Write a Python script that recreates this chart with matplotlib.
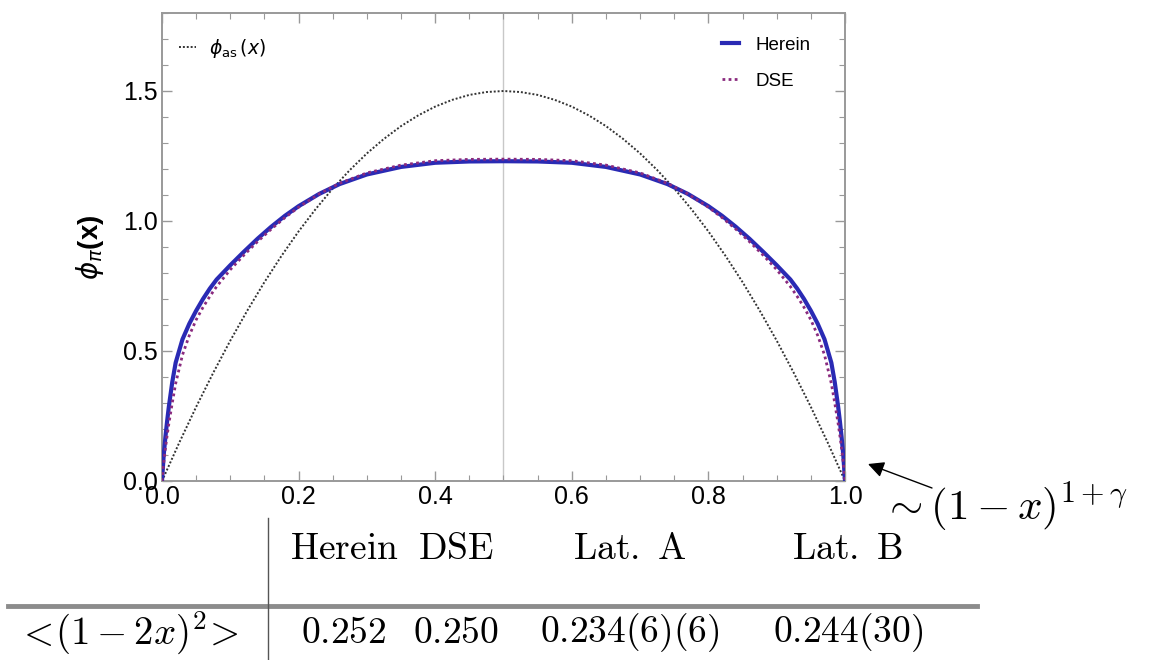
import matplotlib
matplotlib.use("Agg")
import matplotlib.pyplot as plt
from matplotlib.lines import Line2D
from matplotlib.font_manager import FontProperties
from matplotlib.ticker import MultipleLocator

plt.rcParams["font.family"] = ["Liberation Sans", "DejaVu Sans"]
plt.rcParams["mathtext.fontset"] = "cm"

# --- data ---
x_as = [0.0, 0.025, 0.05, 0.075, 0.10, 0.125, 0.15, 0.175, 0.20, 0.225, 0.25,
        0.275, 0.30, 0.325, 0.35, 0.375, 0.40, 0.425, 0.45, 0.475, 0.50,
        0.525, 0.55, 0.575, 0.60, 0.625, 0.65, 0.675, 0.70, 0.725, 0.75,
        0.775, 0.80, 0.825, 0.85, 0.875, 0.90, 0.925, 0.95, 0.975, 1.0]
phi_as = [0.0, 0.146, 0.285, 0.416, 0.54, 0.656, 0.765, 0.866, 0.96, 1.046, 1.125,
          1.196, 1.26, 1.316, 1.365, 1.406, 1.44, 1.466, 1.485, 1.496, 1.5,
          1.496, 1.485, 1.466, 1.44, 1.406, 1.365, 1.316, 1.26, 1.196, 1.125,
          1.046, 0.96, 0.866, 0.765, 0.656, 0.54, 0.416, 0.285, 0.146, 0.0]

x_pts = [0.0, 0.0025, 0.005, 0.0075, 0.01, 0.015, 0.02, 0.03, 0.04, 0.05, 0.06, 0.07,
         0.08, 0.10, 0.12, 0.14, 0.16, 0.18, 0.20, 0.23, 0.26, 0.30, 0.35, 0.40, 0.45,
         0.50,
         0.55, 0.60, 0.65, 0.70, 0.74, 0.77, 0.80, 0.82, 0.84, 0.86, 0.88, 0.90, 0.92,
         0.93, 0.94, 0.95, 0.96, 0.97, 0.98, 0.985, 0.99, 0.9925, 0.995, 0.9975, 1.0]
phi_herein = [0.0, 0.10, 0.17, 0.23, 0.285, 0.38, 0.455, 0.545, 0.605, 0.655, 0.70, 0.74,
              0.775, 0.83, 0.882, 0.932, 0.978, 1.020, 1.057, 1.104, 1.142, 1.179, 1.208,
              1.224, 1.229,
              1.23,
              1.229, 1.224, 1.208, 1.179, 1.142, 1.104, 1.057, 1.020, 0.978, 0.932, 0.882,
              0.83, 0.775, 0.74, 0.70, 0.655, 0.605, 0.545, 0.455, 0.38, 0.285, 0.23, 0.17,
              0.10, 0.0]
phi_dse = [0.0, 0.07, 0.125, 0.175, 0.22, 0.30, 0.375, 0.485, 0.56, 0.62, 0.668, 0.71,
           0.748, 0.813, 0.869, 0.921, 0.969, 1.013, 1.053, 1.104, 1.145, 1.185, 1.215,
           1.232, 1.237,
           1.238,
           1.237, 1.232, 1.215, 1.185, 1.145, 1.104, 1.053, 1.013, 0.969, 0.921, 0.869,
           0.813, 0.748, 0.71, 0.668, 0.62, 0.56, 0.485, 0.375, 0.30, 0.22, 0.175, 0.125,
           0.07, 0.0]

table_cols = ["Herein", "DSE", "Lat. A", "Lat. B"]
table_vals = ["0.252", "0.250", "0.234(6)(6)", "0.244(30)"]
table_row = r"$<\!(1-2x)^2\!>$"

W, H = 1172, 660

def fx(px):
    return px / W

def fy(py):
    return 1 - py / H

fig = plt.figure(figsize=(11.72, 6.60), dpi=100)
ax = fig.add_axes([fx(162), fy(481), fx(845) - fx(162), fy(13) - fy(481)])

# --- curves ---
ax.axvline(0.5, color="#c8c8c8", lw=1.0, zorder=1)
l_as, = ax.plot(x_as, phi_as, color="#333333", ls=(0, (1, 1)), lw=1.4, zorder=2)
l_her, = ax.plot(x_pts, phi_herein, color="#2a2ab4", lw=3.0, zorder=3)
l_dse, = ax.plot(x_pts, phi_dse, color="#8a2a7e", ls=(0, (1, 1.2)), lw=2.0, zorder=4)

ax.set_xlim(0, 1)
ax.set_ylim(0, 1.8)
ax.xaxis.set_major_locator(MultipleLocator(0.2))
ax.xaxis.set_minor_locator(MultipleLocator(0.05))
ax.yaxis.set_major_locator(MultipleLocator(0.5))
ax.yaxis.set_minor_locator(MultipleLocator(0.1))
ax.tick_params(which="both", direction="in", top=True, right=True, color="#999999")
ax.tick_params(which="major", length=7, width=1.0, labelsize=18, pad=3)
ax.tick_params(which="minor", length=4, width=0.8)
for s in ax.spines.values():
    s.set_color("#999999")
    s.set_linewidth(1.4)

ax.set_ylabel(r"$\phi_\pi$(x)", fontsize=20, fontweight="bold", labelpad=12,
              math_fontfamily="dejavusans")

leg_font = FontProperties(family=["Liberation Sans", "DejaVu Sans"], size=13.5,
                          math_fontfamily="dejavusans")
leg1 = ax.legend([l_as], [r"$\phi_{\rm as}\,(x)$"], loc="upper left", frameon=False,
                 prop=leg_font, handlelength=0.9, handletextpad=0.7,
                 bbox_to_anchor=(0.0, 0.985))
ax.add_artist(leg1)
ax.legend([l_her, l_dse], ["Herein", "DSE"], loc="upper right", frameon=False,
          prop=leg_font, handlelength=0.9, handletextpad=0.9, labelspacing=1.0,
          bbox_to_anchor=(0.975, 0.985))

# --- annotation ---
fig.add_artist(plt.Annotation("", xy=(fx(868), fy(464)), xytext=(fx(932), fy(488)),
                              xycoords="figure fraction", textcoords="figure fraction",
                              arrowprops=dict(arrowstyle="-|>", color="black", lw=1.0,
                                              mutation_scale=24, shrinkA=0, shrinkB=0)))
fig.text(fx(882), fy(507), r"$\sim(1-x)^{1+\gamma}$", fontsize=31, ha="left", va="center")

# --- table below ---
col_x = [344, 456, 630, 848]
for cx, name, val in zip(col_x, table_cols, table_vals):
    fig.text(fx(cx), fy(549), r"$\mathrm{" + name.replace(" ", r"\ ") + "}$",
             fontsize=27, ha="center", va="center")
    fig.text(fx(cx), fy(633), r"$\mathrm{" + val + "}$", fontsize=27, ha="center", va="center")
fig.text(fx(128), fy(633), table_row, fontsize=28, ha="center", va="center")

fig.add_artist(Line2D([fx(8), fx(977)], [fy(606), fy(606)], color="#8c8c8c", lw=3.5))
fig.add_artist(Line2D([fx(268), fx(268)], [fy(518), fy(660)], color="#555555", lw=1.0))

fig.savefig("out.png", dpi=100)
